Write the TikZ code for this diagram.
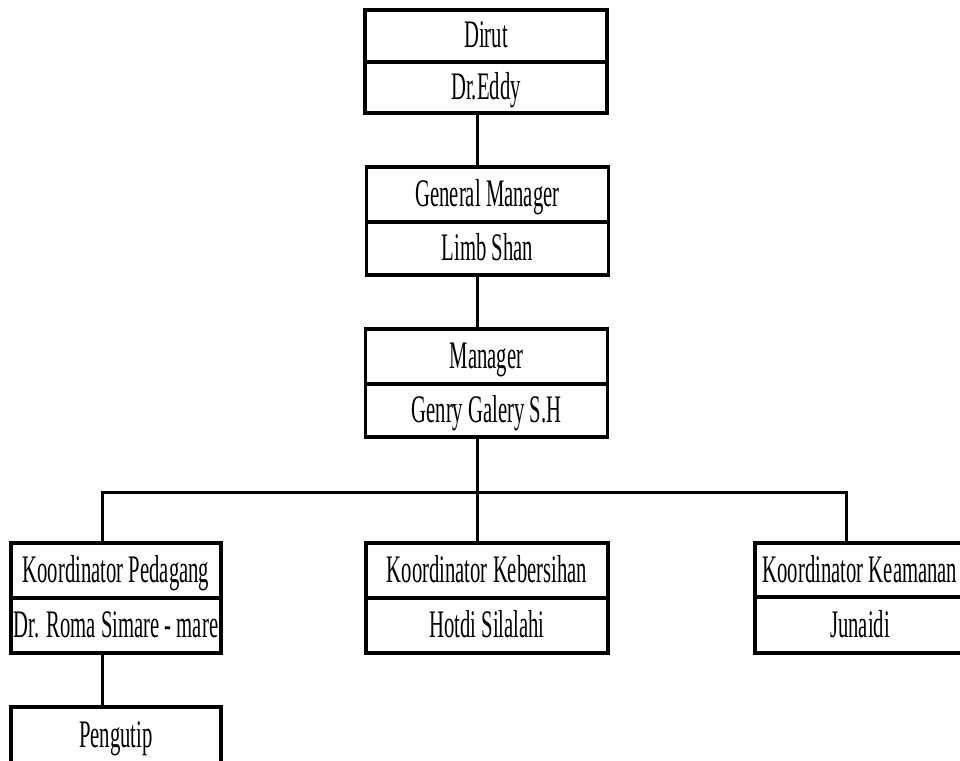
\documentclass[tikz,border=0pt]{standalone}
\usepackage{fontspec}
\setmainfont{Liberation Serif}[FakeStretch=0.53]
\begin{document}
\begin{tikzpicture}[x=1pt,y=-1pt,
  cell/.style={draw=black, line width=3.5pt, rectangle, inner sep=0pt,
    font=\fontsize{39}{44}\selectfont, text height=27pt, text depth=3pt},
  wide/.style={cell, minimum width=242pt},
  narrow/.style={cell, minimum width=210pt},
  conn/.style={draw=black, line width=3pt}]
\useasboundingbox (0,0) rectangle (960,760);
\fill[white] (0,0) rectangle (960,760);
% top chain
\node[wide, minimum height=52pt] (dirT) at (486,36) {Dirut};
\node[wide, minimum height=51pt] (dirB) at (486,87.5) {Dr.Eddy};
\node[wide, minimum height=55pt] (gmT) at (487.5,194.5) {General Manager};
\node[wide, minimum height=53pt] (gmB) at (487.5,248.5) {Limb Shan};
\node[wide, minimum height=55pt] (mgT) at (486.5,356.5) {Manager};
\node[wide, minimum height=53pt] (mgB) at (486.5,410.5) {Genry Galery S.H};
% bottom row
\node[narrow, minimum height=55pt] (kpT) at (116,570.5) {Koordinator Pedagang};
\node[narrow, minimum height=55pt] (kpB) at (116,625.5) {Dr. Roma Simare - mare};
\node[wide, minimum height=55pt] (kbT) at (487,570.5) {Koordinator Kebersihan};
\node[wide, minimum height=55pt] (kbB) at (487,625.5) {Hotdi Silalahi};
\node[narrow, minimum height=54pt] (kaT) at (860,570) {Koordinator Keamanan};
\node[narrow, minimum height=56pt] (kaB) at (860,625) {Junaidi};
\node[narrow, minimum height=56pt] (pg) at (116,735) {Pengutip};
% connectors
\coordinate (busL) at (102,492);
\coordinate (busR) at (846,492);
\draw[conn] ([xshift=-9pt]dirB.south) -- ([xshift=-10.5pt]gmT.north);
\draw[conn] ([xshift=-10.5pt]gmB.south) -- ([xshift=-9.5pt]mgT.north);
\draw[conn] ([xshift=-9.5pt]mgB.south) -- ([xshift=-10pt]kbT.north);
\draw[conn, line cap=rect] (busL) -- (busR);
\draw[conn] (busL) -- ([xshift=-14pt]kpT.north);
\draw[conn] (busR) -- ([xshift=-14pt]kaT.north);
\draw[conn] ([xshift=-14pt]kpB.south) -- ([xshift=-14pt]pg.north);
\end{tikzpicture}
\end{document}
